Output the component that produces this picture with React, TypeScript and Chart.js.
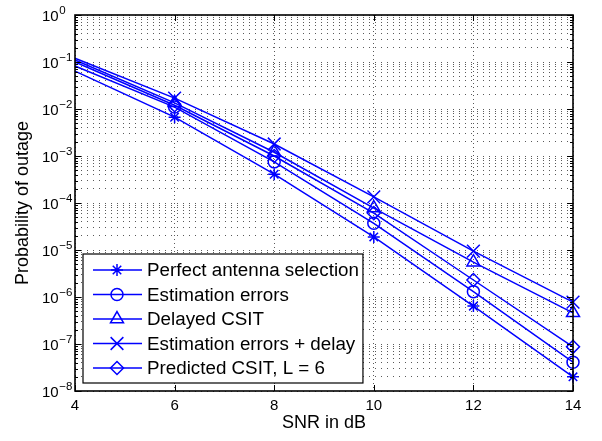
import React, { useEffect, useRef } from 'react';
import { Chart, registerables } from 'chart.js';
import { drawPoint } from 'chart.js/helpers';

Chart.register(...registerables);

// ---- data ----
const snrDb = [4, 6, 8, 10, 12, 14];
const perfectSelection = [0.064, 6.7e-3, 4.1e-4, 1.9e-5, 6.4e-7, 2.0e-8];
const estimationErrors = [0.082, 1.1e-2, 7.5e-4, 3.7e-5, 1.3e-6, 4.1e-8];
const delayedCsit = [0.11, 1.35e-2, 1.2e-3, 7.8e-5, 5.5e-6, 4.6e-7];
const estErrorsDelay = [0.12, 1.7e-2, 1.8e-3, 1.35e-4, 9.5e-6, 7.8e-7];
const predictedCsit = [0.1, 1.2e-2, 1.0e-3, 6.1e-5, 2.3e-6, 8.7e-8];

const seriesLabels = [
  'Perfect antenna selection',
  'Estimation errors',
  'Delayed CSIT',
  'Estimation errors + delay',
  'Predicted CSIT, L = 6',
];
const xTickValues = [4, 6, 8, 10, 12, 14];
const yDecadeExponents = [-8, -7, -6, -5, -4, -3, -2, -1, 0];
const xAxisTitle = 'SNR in dB';
const yAxisTitle = 'Probability of outage';

// ---- styles ----
const FONT = '"Liberation Sans", Arial, Helvetica, sans-serif';
const BLUE = '#0000ff';
const markerStyles = ['star', 'circle', 'triangle', 'crossRot', 'rectRot'];
const markerRadii = [6, 6, 7.5, 9, 6.5];

const allYTicks: number[] = [];
yDecadeExponents.forEach((e) => {
  if (e === 0) {
    allYTicks.push(1);
  } else {
    for (let m = 1; m <= 9; m++) allYTicks.push(m * Math.pow(10, e));
  }
});

const isDecade = (v: number) => {
  const e = Math.round(Math.log10(v));
  return Math.abs(v - Math.pow(10, e)) / v < 1e-6;
};

const framePlugin = {
  id: 'matlabFrame',
  afterDraw(chart: any) {
    const { ctx, chartArea } = chart;
    const { left, right, top, bottom } = chartArea;
    const yScale = chart.scales.y;
    const xScale = chart.scales.x;
    ctx.save();
    // ticks (inward)
    ctx.strokeStyle = '#000';
    ctx.lineWidth = 1;
    ctx.beginPath();
    allYTicks.forEach((v) => {
      const y = Math.round(yScale.getPixelForValue(v)) + 0.5;
      const len = isDecade(v) ? 6 : 3;
      ctx.moveTo(left, y);
      ctx.lineTo(left + len, y);
      ctx.moveTo(right, y);
      ctx.lineTo(right - len, y);
    });
    xTickValues.forEach((v) => {
      const x = Math.round(xScale.getPixelForValue(v)) + 0.5;
      ctx.moveTo(x, bottom);
      ctx.lineTo(x, bottom - 6);
      ctx.moveTo(x, top);
      ctx.lineTo(x, top + 6);
    });
    ctx.stroke();
    // box
    ctx.lineWidth = 1.6;
    ctx.strokeRect(left, top, right - left, bottom - top);

    // y tick labels: 10 with superscript exponent
    ctx.fillStyle = '#000';
    ctx.textAlign = 'left';
    ctx.textBaseline = 'alphabetic';
    yDecadeExponents.forEach((e) => {
      const y = yScale.getPixelForValue(Math.pow(10, e));
      const bx = left - 33;
      ctx.font = `15px ${FONT}`;
      ctx.fillText('10', bx, y + 6);
      const w = ctx.measureText('10').width;
      ctx.font = `11.5px ${FONT}`;
      ctx.fillText(e === 0 ? '0' : '\u2212' + String(-e), bx + w + 0.5, y - 1.5);
    });

    // legend
    const n = chart.data.datasets.length;
    const rowH = 24.5;
    const bx0 = left + 8;
    const by1 = bottom - 8;
    const by0 = by1 - 129;
    ctx.font = `18.8px ${FONT}`;
    let maxW = 0;
    chart.data.datasets.forEach((ds: any) => {
      maxW = Math.max(maxW, ctx.measureText(ds.label).width);
    });
    const textX = bx0 + 64;
    const bx1 = textX + maxW + 4;
    ctx.fillStyle = '#fff';
    ctx.fillRect(bx0, by0, bx1 - bx0, by1 - by0);
    ctx.strokeStyle = '#000';
    ctx.lineWidth = 1.2;
    ctx.strokeRect(bx0, by0, bx1 - bx0, by1 - by0);
    for (let i = 0; i < n; i++) {
      const ds = chart.data.datasets[i];
      const cy = by0 + 16 + i * rowH;
      ctx.strokeStyle = BLUE;
      ctx.lineWidth = 1.5;
      ctx.beginPath();
      ctx.moveTo(bx0 + 10, cy);
      ctx.lineTo(bx0 + 59, cy);
      ctx.stroke();
      ctx.fillStyle = 'rgba(0,0,0,0)';
      drawPoint(ctx, { pointStyle: ds.pointStyle, radius: markerRadii[i], rotation: 0, borderWidth: 1.5 } as any, bx0 + 34, cy);
      ctx.fillStyle = '#000';
      ctx.textBaseline = 'middle';
      ctx.textAlign = 'left';
      ctx.fillText(ds.label, textX, cy + 1);
    }
    ctx.restore();
  },
};

export default function App() {
  const ref = useRef<HTMLCanvasElement | null>(null);
  useEffect(() => {
    if (!ref.current) return;
    const seriesValues = [perfectSelection, estimationErrors, delayedCsit, estErrorsDelay, predictedCsit];
    const datasets = seriesValues.map((vals, i) => ({
      label: seriesLabels[i],
      data: snrDb.map((x, j) => ({ x, y: vals[j] })),
      borderColor: BLUE,
      backgroundColor: 'rgba(0,0,0,0)',
      borderWidth: 1.5,
      pointStyle: markerStyles[i],
      // no marker drawn at the left edge (x = 4), as in the reference
      pointRadius: snrDb.map((x) => (x === 4 ? 0 : markerRadii[i])),
      pointBorderColor: BLUE,
      pointBackgroundColor: 'rgba(0,0,0,0)',
      pointBorderWidth: 1.5,
      fill: false,
      tension: 0,
      clip: false,
    }));
    const chart = new Chart(ref.current, {
      type: 'line',
      data: { datasets },
      options: {
        responsive: false,
        animation: false,
        events: [],
        layout: { padding: { left: 0, top: 15, right: 29, bottom: 0 } },
        plugins: { legend: { display: false }, tooltip: { enabled: false } },
        scales: {
          x: {
            type: 'linear',
            min: 4,
            max: 14,
            afterBuildTicks: (scale: any) => {
              scale.ticks = xTickValues.map((v) => ({ value: v }));
            },
            afterFit: (scale: any) => {
              scale.height = 50;
            },
            ticks: {
              color: '#000',
              font: { family: FONT, size: 15 },
              padding: 6,
              maxRotation: 0,
              autoSkip: false,
              callback: (v: any) => String(v),
            },
            grid: { color: 'rgba(0,0,0,0.65)', lineWidth: 1, drawTicks: false },
            border: { display: false, dash: [1, 3] },
            title: {
              display: true,
              text: xAxisTitle,
              color: '#000',
              font: { family: FONT, size: 18 },
              padding: { top: 0, bottom: 7 },
            },
          },
          y: {
            type: 'logarithmic',
            min: 1e-8,
            max: 1,
            afterBuildTicks: (scale: any) => {
              scale.ticks = allYTicks.map((v) => ({ value: v, major: isDecade(v) }));
            },
            afterFit: (scale: any) => {
              scale.width = 75;
            },
            ticks: {
              display: false,
              autoSkip: false,
            },
            grid: { color: 'rgba(0,0,0,0.65)', lineWidth: 1, drawTicks: false },
            border: { display: false, dash: [1, 5] },
            title: {
              display: true,
              text: yAxisTitle,
              color: '#000',
              font: { family: FONT, size: 18 },
              padding: { top: 12, bottom: 0 },
            },
          },
        },
      },
      plugins: [framePlugin],
    } as any);
    return () => chart.destroy();
  }, []);
  return (
    <div style={{ position: 'fixed', left: 0, top: 0, width: 602, height: 441, background: '#fff' }}>
      <canvas ref={ref} width={602} height={441} style={{ display: 'block' }} />
    </div>
  );
}
